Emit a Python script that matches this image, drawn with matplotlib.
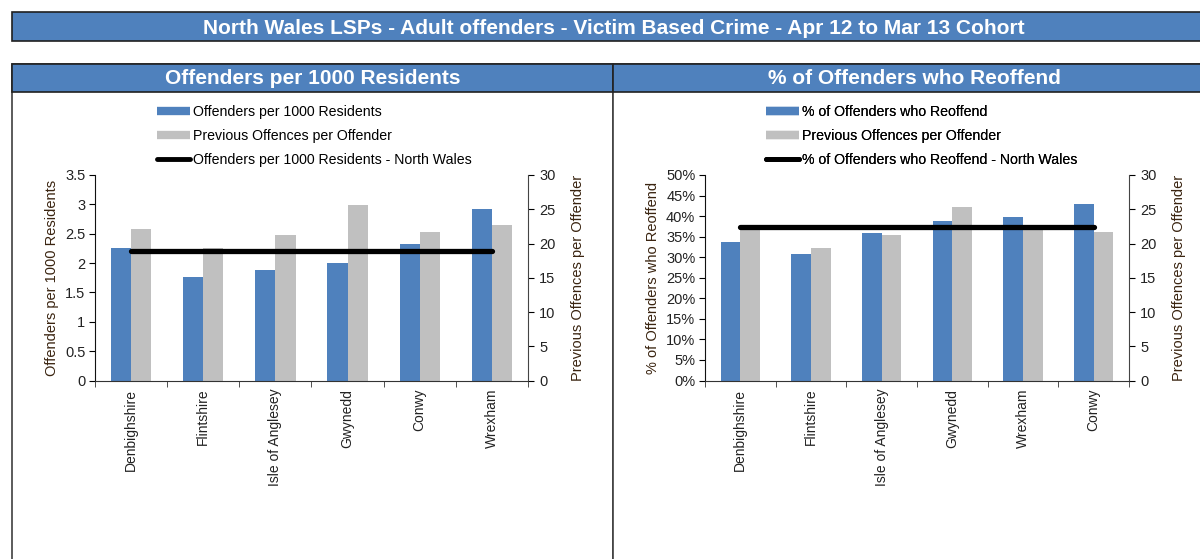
import matplotlib
matplotlib.use('Agg')
import numpy as np
import matplotlib.pyplot as plt
from matplotlib.patches import Rectangle
from matplotlib.lines import Line2D
from matplotlib.ticker import FuncFormatter, MultipleLocator

plt.rcParams['font.family'] = ['Liberation Sans', 'DejaVu Sans']

BLUE = '#4F81BD'
GREY = '#C0C0C0'
LABEL_COLOUR = '#3a2410'

TITLE = 'North Wales LSPs - Adult offenders - Victim Based Crime - Apr 12 to Mar 13 Cohort'

# left chart
rate_areas = ['Denbighshire', 'Flintshire', 'Isle of Anglesey', 'Gwynedd', 'Conwy', 'Wrexham']
offenders_per_1000 = [2.26, 1.755, 1.875, 2.005, 2.32, 2.92]
prev_offences_rate = [22.1, 19.35, 21.25, 25.6, 21.65, 22.65]
offenders_per_1000_nw = 2.21

# right chart
reoffend_areas = ['Denbighshire', 'Flintshire', 'Isle of Anglesey', 'Gwynedd', 'Wrexham', 'Conwy']
pct_reoffend = [33.6, 30.9, 35.9, 38.7, 39.7, 43.0]
prev_offences_reoffend = [22.1, 19.35, 21.25, 25.4, 22.6, 21.7]
pct_reoffend_nw = 37.4


def draw_panel(bg, x0, x1, xc, header):
    # panel border + header bar, in pixel coords
    bg.add_patch(Rectangle((x0, 64), x1 - x0, 520, facecolor='white', edgecolor='#404040', lw=1.2))
    bg.add_patch(Rectangle((x0, 64), x1 - x0, 28, facecolor=BLUE, edgecolor='#202020', lw=1.2))
    bg.text(xc, 79, header, color='white', fontsize=15, fontweight='bold', ha='center', va='center')


def plot_chart(fig, bg, rect, areas, main_vals, grey_vals, nw_val, labels, ylabel, ylim, ystep, pct, legend_xy):
    ax = fig.add_axes(rect)
    ax2 = ax.twinx()
    x = np.arange(len(areas))
    w = 0.28
    ax.bar(x - w / 2, main_vals, w, color=BLUE, zorder=2)
    ax2.bar(x + w / 2, grey_vals, w, color=GREY, zorder=2)
    ax.plot([x[0], x[-1]], [nw_val, nw_val], color='black', lw=3.8, zorder=3, solid_capstyle='round')

    # main axis drawn above the grey bars so the line covers them
    ax.set_zorder(ax2.get_zorder() + 1)
    ax.patch.set_visible(False)

    ax.set_xlim(-0.5, len(areas) - 0.5)
    ax.set_ylim(*ylim)
    ax.yaxis.set_major_locator(MultipleLocator(ystep))
    ax2.set_ylim(0, 30)
    ax2.yaxis.set_major_locator(MultipleLocator(5))
    if pct:
        ax.yaxis.set_major_formatter(FuncFormatter(lambda v, p: '%d%%' % round(v)))
    else:
        ax.yaxis.set_major_formatter(FuncFormatter(lambda v, p: ('%g' % v)))

    ax.set_xticks(x)
    ax.set_xticklabels(areas, rotation=90, fontsize=10, color='#222222')
    ax.tick_params(axis='x', length=0, pad=6)
    ax.set_xticks(np.arange(len(areas) + 1) - 0.5, minor=True)
    ax.tick_params(axis='x', which='minor', length=4, direction='out', color='#333333')
    ax.tick_params(axis='y', length=4, direction='out', labelsize=10.5, labelcolor='#222222', pad=3)
    ax2.tick_params(axis='y', length=4, direction='out', labelsize=10.5, labelcolor='#222222', pad=4)

    for a in (ax, ax2):
        a.spines['top'].set_visible(False)
    ax.spines['right'].set_visible(False)
    ax2.spines['left'].set_visible(False)
    ax.spines['left'].set_color('#111111')
    ax.spines['bottom'].set_color('#333333')
    ax2.spines['bottom'].set_visible(False)
    ax2.spines['right'].set_color('#444444')

    ax.set_ylabel(ylabel, fontsize=10.5, color=LABEL_COLOUR, labelpad=4)
    ax2.set_ylabel('Previous Offences per Offender', fontsize=10.5, color=LABEL_COLOUR, labelpad=11)

    handles = [Line2D([], [], color=BLUE, lw=6, solid_capstyle='butt'),
               Line2D([], [], color=GREY, lw=6, solid_capstyle='butt'),
               Line2D([], [], color='black', lw=3.5, solid_capstyle='round')]
    leg = bg.legend(handles, labels, loc='upper left', bbox_to_anchor=legend_xy,
                    bbox_transform=bg.transData, frameon=False, fontsize=10.2,
                    handlelength=2.3, handletextpad=0.25, labelspacing=0.72,
                    borderpad=0, borderaxespad=0)
    bg.add_artist(leg)
    return ax, ax2


fig = plt.figure(figsize=(12, 5.59), dpi=100)
bg = fig.add_axes([0, 0, 1, 1])
bg.set_xlim(0, 1200)
bg.set_ylim(559, 0)
bg.axis('off')

# main title bar
bg.add_patch(Rectangle((12, 12), 1200, 29, facecolor=BLUE, edgecolor='#202020', lw=1.2))
bg.text(614, 28, TITLE, color='white', fontsize=15, fontweight='bold', ha='center', va='center')

draw_panel(bg, 12, 613, 313, 'Offenders per 1000 Residents')
draw_panel(bg, 613, 1220, 914, '% of Offenders who Reoffend')

H = 559.0
plot_chart(fig, bg, [95 / 1200, 1 - 380.5 / H, (528 - 95) / 1200, (380.5 - 175) / H],
           rate_areas, offenders_per_1000, prev_offences_rate, offenders_per_1000_nw,
           ['Offenders per 1000 Residents', 'Previous Offences per Offender',
            'Offenders per 1000 Residents - North Wales'],
           'Offenders per 1000 Residents', (0, 3.5), 0.5, False, (157, 105))

plot_chart(fig, bg, [705 / 1200, 1 - 380.5 / H, (1129 - 705) / 1200, (380.5 - 175) / H],
           reoffend_areas, pct_reoffend, prev_offences_reoffend, pct_reoffend_nw,
           ['% of Offenders who Reoffend', 'Previous Offences per Offender',
            '% of Offenders who Reoffend - North Wales'],
           '% of Offenders who Reoffend', (0, 50), 5, True, (766, 105))

fig.savefig('out.png', dpi=100)
